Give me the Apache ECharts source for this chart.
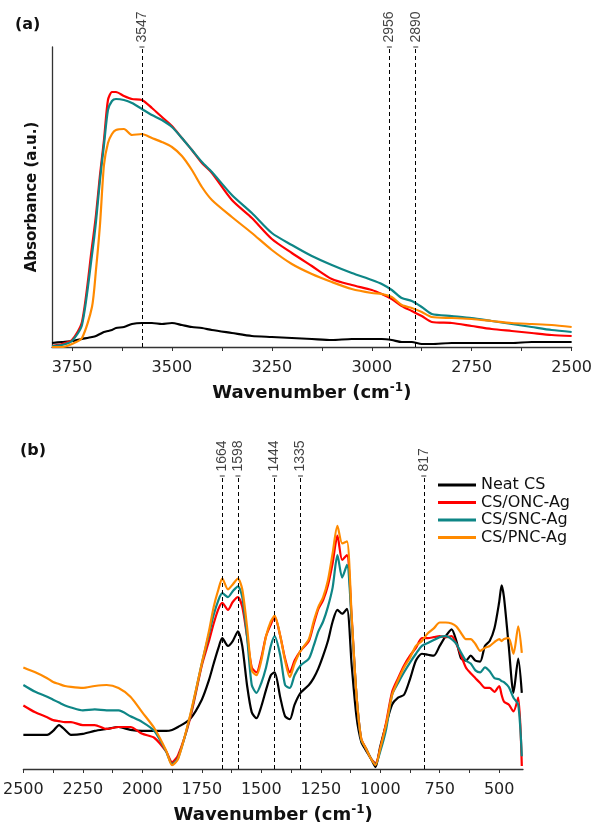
<!DOCTYPE html>
<html lang="en">
<head>
    <meta charset="UTF-8">
    <title>FTIR spectra</title>
    <script src="https://cdn.jsdelivr.net/npm/echarts@6/dist/echarts.min.js"></script>
    <style>
        html, body { margin: 0; padding: 0; background: #fff; }
        #main { width: 595px; height: 827px; }
    </style>
</head>
<body>
<div id="main"></div>
<script type="text/javascript">
    var seriesNames = ['Neat CS', 'CS/ONC-Ag', 'CS/SNC-Ag', 'CS/PNC-Ag'];

    // panel (a): 3800 - 2500 cm-1
    var wnTop = [3800, 3775, 3750, 3725, 3700, 3690, 3680, 3670, 3660, 3650, 3640, 3620, 3600, 3575, 3550, 3525, 3500, 3475, 3450, 3425, 3400, 3350, 3300, 3250, 3200, 3150, 3100, 3050, 3000, 2975, 2950, 2925, 2900, 2875, 2850, 2800, 2750, 2700, 2650, 2600, 2550, 2500];
    var neatTop = [0.04, 0.05, 0.06, 0.08, 0.10, 0.11, 0.13, 0.15, 0.16, 0.17, 0.19, 0.20, 0.23, 0.24, 0.24, 0.23, 0.24, 0.22, 0.20, 0.19, 0.17, 0.14, 0.11, 0.10, 0.09, 0.08, 0.07, 0.08, 0.08, 0.08, 0.07, 0.05, 0.05, 0.03, 0.03, 0.04, 0.04, 0.04, 0.04, 0.05, 0.05, 0.05];
    var oncTop = [0.01, 0.03, 0.07, 0.25, 1.00, 1.32, 1.72, 2.07, 2.47, 2.55, 2.55, 2.51, 2.48, 2.47, 2.39, 2.30, 2.21, 2.09, 1.97, 1.84, 1.74, 1.47, 1.29, 1.08, 0.94, 0.81, 0.68, 0.62, 0.57, 0.53, 0.48, 0.41, 0.36, 0.31, 0.25, 0.24, 0.21, 0.18, 0.16, 0.14, 0.12, 0.11];
    var sncTop = [0.01, 0.02, 0.06, 0.22, 0.92, 1.25, 1.67, 2.02, 2.37, 2.46, 2.48, 2.47, 2.44, 2.38, 2.32, 2.27, 2.20, 2.09, 1.97, 1.85, 1.75, 1.52, 1.34, 1.14, 1.02, 0.91, 0.82, 0.74, 0.67, 0.63, 0.57, 0.49, 0.46, 0.40, 0.33, 0.31, 0.29, 0.26, 0.23, 0.20, 0.17, 0.15];
    var pncTop = [0.00, 0.00, 0.03, 0.09, 0.40, 0.77, 1.22, 1.82, 2.04, 2.13, 2.17, 2.18, 2.12, 2.13, 2.09, 2.05, 2.00, 1.91, 1.77, 1.60, 1.47, 1.30, 1.14, 0.97, 0.83, 0.73, 0.65, 0.58, 0.54, 0.53, 0.50, 0.42, 0.39, 0.35, 0.30, 0.29, 0.28, 0.26, 0.24, 0.23, 0.22, 0.20];
    var peakPosTop = [3575, 2956, 2890];
    var peakTextTop = ['3547', '2956', '2890'];
    var labelsTop = [3750, 3500, 3250, 3000, 2750, 2500];
    var ticksTop = [3750, 3625, 3500, 3375, 3250, 3125, 3000, 2875, 2750, 2625, 2500];

    // panel (b): 2500 - 400 cm-1
    var wnBot = [2500, 2450, 2400, 2375, 2350, 2325, 2300, 2250, 2200, 2150, 2100, 2050, 2000, 1950, 1900, 1875, 1850, 1800, 1750, 1720, 1700, 1680, 1664, 1640, 1620, 1598, 1580, 1560, 1540, 1520, 1500, 1480, 1460, 1444, 1420, 1400, 1380, 1360, 1335, 1300, 1280, 1260, 1240, 1220, 1200, 1180, 1160, 1140, 1120, 1100, 1080, 1060, 1040, 1020, 1000, 975, 950, 925, 900, 875, 850, 825, 800, 775, 750, 725, 700, 680, 660, 640, 620, 600, 580, 560, 540, 520, 500, 490, 480, 460, 440, 420, 405];
    var neatBot = [0.35, 0.35, 0.35, 0.39, 0.45, 0.40, 0.35, 0.36, 0.39, 0.41, 0.43, 0.40, 0.39, 0.39, 0.39, 0.40, 0.43, 0.51, 0.71, 0.91, 1.08, 1.24, 1.34, 1.26, 1.31, 1.41, 1.26, 0.86, 0.58, 0.52, 0.64, 0.81, 0.96, 0.99, 0.73, 0.54, 0.51, 0.66, 0.78, 0.86, 0.93, 1.03, 1.16, 1.31, 1.51, 1.63, 1.59, 1.64, 1.06, 0.54, 0.28, 0.19, 0.11, 0.02, 0.23, 0.46, 0.66, 0.73, 0.76, 0.92, 1.11, 1.18, 1.17, 1.16, 1.26, 1.36, 1.43, 1.31, 1.13, 1.11, 1.16, 1.11, 1.10, 1.26, 1.31, 1.44, 1.71, 1.88, 1.76, 1.26, 0.78, 1.13, 0.78];
    var oncBot = [0.65, 0.58, 0.53, 0.50, 0.49, 0.48, 0.48, 0.45, 0.45, 0.41, 0.43, 0.43, 0.36, 0.32, 0.18, 0.07, 0.14, 0.51, 1.06, 1.31, 1.49, 1.64, 1.70, 1.63, 1.71, 1.76, 1.66, 1.36, 1.04, 0.99, 1.14, 1.36, 1.48, 1.56, 1.36, 1.13, 0.99, 1.11, 1.21, 1.31, 1.48, 1.64, 1.73, 1.88, 2.11, 2.39, 2.14, 2.19, 1.54, 0.76, 0.31, 0.21, 0.11, 0.06, 0.21, 0.48, 0.79, 0.93, 1.06, 1.16, 1.24, 1.34, 1.34, 1.35, 1.36, 1.35, 1.36, 1.28, 1.16, 1.04, 0.98, 0.93, 0.88, 0.83, 0.83, 0.79, 0.85, 0.76, 0.69, 0.66, 0.59, 0.73, 0.03];
    var sncBot = [0.86, 0.79, 0.74, 0.71, 0.68, 0.65, 0.63, 0.60, 0.61, 0.60, 0.60, 0.54, 0.48, 0.39, 0.18, 0.05, 0.11, 0.53, 1.08, 1.38, 1.58, 1.73, 1.80, 1.76, 1.82, 1.87, 1.76, 1.36, 0.86, 0.78, 0.88, 1.04, 1.26, 1.36, 1.16, 0.86, 0.83, 0.96, 1.06, 1.13, 1.26, 1.41, 1.51, 1.66, 1.86, 2.19, 1.96, 2.09, 1.51, 0.76, 0.30, 0.21, 0.11, 0.05, 0.18, 0.41, 0.76, 0.88, 0.99, 1.09, 1.18, 1.26, 1.29, 1.32, 1.35, 1.36, 1.33, 1.28, 1.19, 1.11, 1.08, 1.01, 0.99, 1.04, 1.00, 0.93, 0.92, 0.90, 0.89, 0.84, 0.73, 0.66, 0.13];
    var pncBot = [1.04, 0.99, 0.93, 0.89, 0.87, 0.85, 0.84, 0.83, 0.85, 0.86, 0.83, 0.74, 0.58, 0.42, 0.19, 0.04, 0.10, 0.54, 1.08, 1.41, 1.66, 1.84, 1.95, 1.84, 1.89, 1.95, 1.84, 1.46, 1.01, 0.96, 1.11, 1.36, 1.51, 1.57, 1.36, 1.11, 0.94, 1.08, 1.21, 1.33, 1.51, 1.66, 1.76, 1.93, 2.21, 2.49, 2.31, 2.33, 1.56, 0.76, 0.31, 0.21, 0.11, 0.04, 0.21, 0.46, 0.76, 0.91, 1.04, 1.14, 1.26, 1.31, 1.39, 1.44, 1.50, 1.50, 1.49, 1.46, 1.39, 1.33, 1.33, 1.28, 1.21, 1.24, 1.26, 1.30, 1.33, 1.31, 1.33, 1.34, 1.18, 1.46, 1.19];
    var peakPosBot = [1664, 1598, 1444, 1335, 817];
    var labelsBot = [2500, 2250, 2000, 1750, 1500, 1250, 1000, 750, 500];
    var ticksBot = [2500, 2375, 2250, 2125, 2000, 1875, 1750, 1625, 1500, 1375, 1250, 1125, 1000, 875, 750, 625, 500];

    var colors = ['#000000', '#ff0000', '#0e8686', '#ff8a00'];
    var YMAX = 3.0;

    function pairs(xs, ys) {
        return xs.map(function (x, i) { return [x, ys[i]]; });
    }

    var tickFont = {fontFamily: 'DejaVu Sans', fontSize: 16, color: '#222'};
    var axisNameStyle = {
        rich: {
            a: {fontFamily: 'DejaVu Sans', fontWeight: 'bold', fontSize: 18, color: '#111', lineHeight: 22},
            s: {fontFamily: 'DejaVu Sans', fontWeight: 'bold', fontSize: 12, color: '#111', verticalAlign: 'top', lineHeight: 22, padding: [0, 0, 10, 0]}
        }
    };

    function xAxisFor(grid, min, max, labels, ticks) {
        return {
            gridIndex: grid, type: 'value', min: min, max: max, inverse: true,
            axisLine: {show: true, onZero: false, lineStyle: {color: '#333', width: 1.3}},
            axisTick: {show: true, length: 4, customValues: ticks, lineStyle: {color: '#333'}},
            axisLabel: Object.assign({
                customValues: labels, margin: 13,
                formatter: function (v) { return String(v); }
            }, tickFont),
            splitLine: {show: false},
            name: '{a|Wavenumber (cm}{s|-1}{a|)}',
            nameLocation: 'middle', nameGap: 35,
            nameTextStyle: axisNameStyle
        };
    }

    function peakLines(positions) {
        return {
            silent: true,
            symbol: ['none', 'none'],
            label: {show: false},
            lineStyle: {type: [4, 3], color: '#000', width: 1},
            data: positions.map(function (p) { return [{coord: [p, 0]}, {coord: [p, YMAX]}]; })
        };
    }

    function peakLabels(grid, positions, texts) {
        return {
            type: 'scatter', xAxisIndex: grid, yAxisIndex: grid, silent: true,
            symbol: 'rect', symbolSize: [5, 1],
            itemStyle: {color: '#000'},
            data: positions.map(function (p, i) { return {value: [p, YMAX], name: texts[i]}; }),
            label: {
                show: true, position: 'top', distance: 4, rotate: 90,
                align: 'left', verticalAlign: 'middle',
                fontFamily: 'Liberation Sans', fontSize: 14, color: '#111',
                formatter: function (d) { return d.name; }
            },
            z: 1
        };
    }

    var series = [];
    var topSets = [neatTop, oncTop, sncTop, pncTop];
    var botSets = [neatBot, oncBot, sncBot, pncBot];
    seriesNames.forEach(function (nm, i) {
        series.push({
            name: nm, type: 'line', xAxisIndex: 0, yAxisIndex: 0,
            data: pairs(wnTop, topSets[i]), showSymbol: false, smooth: 0.25,
            lineStyle: {width: 2.2, color: colors[i]}, itemStyle: {color: colors[i]},
            markLine: i === 0 ? peakLines(peakPosTop) : undefined
        });
    });
    seriesNames.forEach(function (nm, i) {
        series.push({
            name: nm, type: 'line', xAxisIndex: 1, yAxisIndex: 1,
            data: pairs(wnBot, botSets[i]), showSymbol: false, smooth: 0.25,
            lineStyle: {width: 2.2, color: colors[i]}, itemStyle: {color: colors[i]},
            markLine: i === 0 ? peakLines(peakPosBot) : undefined
        });
    });
    series.push(peakLabels(0, peakPosTop, peakTextTop));
    series.push(peakLabels(1, peakPosBot, peakPosBot.map(String)));

    var myChart = echarts.init(document.getElementById('main'), null, {renderer: 'canvas'});
    var option = {
        animation: false,
        backgroundColor: '#fff',
        grid: [
            {left: 52, right: 22, top: 47, height: 300},
            {left: 23, right: 72, top: 476, height: 300}
        ],
        xAxis: [
            xAxisFor(0, 2500, 3800, labelsTop, ticksTop),
            xAxisFor(1, 400, 2500, labelsBot, ticksBot)
        ],
        yAxis: [
            {
                gridIndex: 0, type: 'value', min: 0, max: YMAX,
                axisLine: {show: true, lineStyle: {color: '#333', width: 1.3}},
                axisTick: {show: false}, axisLabel: {show: false}, splitLine: {show: false},
                name: 'Absorbance (a.u.)', nameLocation: 'middle', nameGap: 12,
                nameTextStyle: {fontFamily: 'DejaVu Sans', fontWeight: 'bold', fontSize: 15, color: '#111'}
            },
            {
                gridIndex: 1, type: 'value', min: 0, max: YMAX,
                axisLine: {show: false}, axisTick: {show: false}, axisLabel: {show: false}, splitLine: {show: false}
            }
        ],
        legend: {
            data: seriesNames,
            orient: 'vertical', left: 433, top: 472,
            icon: 'rect', itemWidth: 38, itemHeight: 3, itemGap: 1.5,
            textStyle: {fontFamily: 'DejaVu Sans', fontSize: 16, color: '#111'}
        },
        graphic: [
            {type: 'text', left: 15, top: 17, style: {text: '(a)', font: 'bold 16px "DejaVu Sans"', fill: '#111'}},
            {type: 'text', left: 20, top: 443, style: {text: '(b)', font: 'bold 16px "DejaVu Sans"', fill: '#111'}}
        ],
        series: series
    };
    myChart.setOption(option);
</script>
</body>
</html>
